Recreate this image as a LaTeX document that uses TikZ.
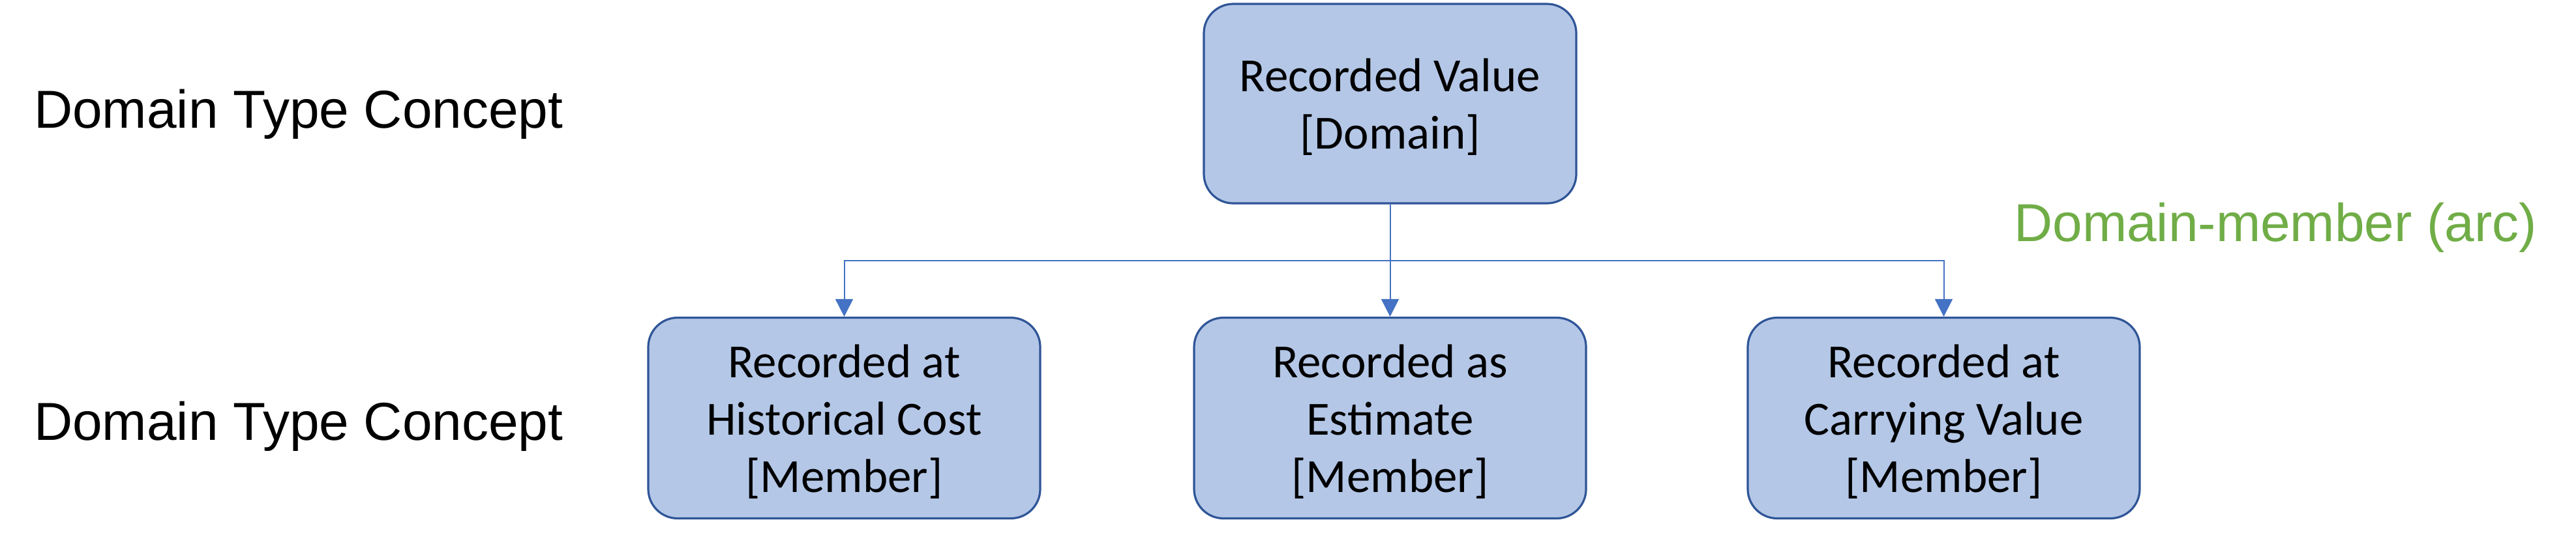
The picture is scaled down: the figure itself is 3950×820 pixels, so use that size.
\documentclass[tikz,border=0pt]{standalone}
\usepackage{fontspec}
\setmainfont{Liberation Sans}
\newfontfamily\boxfont{Carlito}
\usetikzlibrary{arrows.meta}
\definecolor{boxfill}{HTML}{B4C7E7}
\definecolor{boxline}{HTML}{2F5597}
\definecolor{connline}{HTML}{4472C4}
\definecolor{arcgreen}{HTML}{70AD47}
\newcommand{\topstrutx}{\rule{0pt}{61pt}}
\tikzset{
  conceptbox/.style={draw=boxline, fill=boxfill, line width=3.2pt, rounded corners=45pt,
    inner sep=0pt, align=center, font=\boxfont\fontsize{73}{88}\selectfont},
  topbox/.style={conceptbox, minimum width=571pt, minimum height=306pt},
  memberbox/.style={conceptbox, minimum width=601pt, minimum height=308pt},
  conn/.style={draw=connline, line width=2pt, -{Triangle[length=27pt,width=27pt]}},
  rowlabel/.style={anchor=base west, inner sep=0pt, font=\fontsize{82}{98}\selectfont},
  arclabel/.style={anchor=base west, inner sep=0pt, text=arcgreen, font=\fontsize{82}{98}\selectfont}
}
\begin{document}
\begin{tikzpicture}[x=1pt,y=1pt]
\useasboundingbox (0,0) rectangle (3950,-820);
\node[topbox] (top) at (2131.5,-159) {\topstrutx Recorded Value\\{}[Domain]};
\node[memberbox] (b1) at (1294.5,-641.5) {\topstrutx Recorded at\\Historical Cost\\{}[Member]};
\node[memberbox] (b2) at (2131.5,-641.5) {\topstrutx Recorded as\\Estimate\\{}[Member]};
\node[memberbox] (b3) at (2980.5,-641.5) {\topstrutx Recorded at\\Carrying Value\\{}[Member]};
\node[rowlabel] (l1) at (52,-196) {Domain Type Concept};
\node[rowlabel] (l2) at (52,-675) {Domain Type Concept};
\node[arclabel] (arc) at (3088,-370) {Domain-member (arc)};
\coordinate (j) at (2131.5,-400);
\draw[draw=connline, line width=2pt] (top.south) -- (j);
\draw[conn] (j) -| (b1.north);
\draw[conn] (j) -- (b2.north);
\draw[conn] (j) -| (b3.north);
\end{tikzpicture}
\end{document}
